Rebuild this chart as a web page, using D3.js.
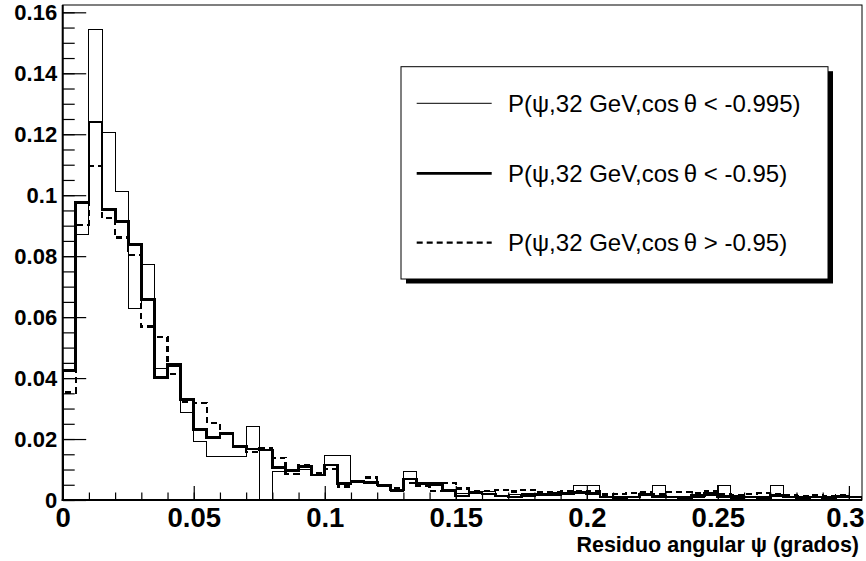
<!DOCTYPE html>
<html>
<head>
<meta charset="utf-8">
<script src="https://cdn.jsdelivr.net/npm/d3@7"></script>
<style>
  html, body { margin: 0; padding: 0; background: #fff; }
  svg { display: block; }
</style>
</head>
<body>
<svg id="chart" width="866" height="561"></svg>
<script>
// ---- data ----
const binWidth = 0.005;
const xMin = 0, xMax = 0.305;
const yMin = 0, yMax = 0.1624;

// P(psi, 32 GeV, cos theta < -0.995)  (thin)
const seriesThin = [0.0449, 0.0870, 0.1542, 0.1206, 0.1012, 0.0627, 0.0771, 0.0433, 0.0438, 0.0288,
  0.0191, 0.0142, 0.0142, 0.0142, 0.0241, 0.0000, 0.0095, 0.0095, 0.0100, 0.0079,
  0.0145, 0.0145, 0.0060, 0.0058, 0.0044, 0.0028, 0.0095, 0.0055, 0.0046, 0.0028,
  0.0022, 0.0028, 0.0028, 0.0015, 0.0018, 0.0022, 0.0022, 0.0025, 0.0025, 0.0047,
  0.0047, 0.0010, 0.0012, 0.0012, 0.0015, 0.0047, 0.0012, 0.0012, 0.0008, 0.0015,
  0.0047, 0.0015, 0.0012, 0.0008, 0.0047, 0.0010, 0.0008, 0.0010, 0.0005, 0.0010, 0.0008];

// P(psi, 32 GeV, cos theta < -0.95)  (thick)
const seriesThick = [0.0424, 0.0976, 0.1240, 0.0954, 0.0913, 0.0837, 0.0659, 0.0402, 0.0445, 0.0330,
  0.0230, 0.0205, 0.0219, 0.0175, 0.0167, 0.0164, 0.0106, 0.0098, 0.0109, 0.0082,
  0.0115, 0.0053, 0.0060, 0.0058, 0.0049, 0.0033, 0.0069, 0.0053, 0.0053, 0.0033,
  0.0013, 0.0025, 0.0020, 0.0013, 0.0010, 0.0015, 0.0018, 0.0018, 0.0020, 0.0025,
  0.0022, 0.0010, 0.0008, 0.0010, 0.0018, 0.0012, 0.0010, 0.0008, 0.0015, 0.0022,
  0.0012, 0.0008, 0.0010, 0.0008, 0.0015, 0.0010, 0.0008, 0.0010, 0.0008, 0.0012, 0.0010];

// P(psi, 32 GeV, cos theta > -0.95)  (dashed)
const seriesDashed = [0.0353, 0.0903, 0.1097, 0.0924, 0.0861, 0.0804, 0.0569, 0.0534, 0.0414, 0.0323,
  0.0319, 0.0252, 0.0216, 0.0173, 0.0158, 0.0169, 0.0139, 0.0085, 0.0115, 0.0088,
  0.0101, 0.0044, 0.0062, 0.0074, 0.0049, 0.0038, 0.0057, 0.0046, 0.0030, 0.0057,
  0.0038, 0.0030, 0.0030, 0.0033, 0.0028, 0.0033, 0.0025, 0.0025, 0.0028, 0.0030,
  0.0028, 0.0018, 0.0020, 0.0022, 0.0025, 0.0020, 0.0027, 0.0025, 0.0022, 0.0030,
  0.0018, 0.0015, 0.0020, 0.0022, 0.0018, 0.0015, 0.0012, 0.0015, 0.0012, 0.0015, 0.0010];

const legendLabels = [
  "P(\u03C8,32 GeV,cos\u2009\u03B8 < -0.995)",
  "P(\u03C8,32 GeV,cos\u2009\u03B8 < -0.95)",
  "P(\u03C8,32 GeV,cos\u2009\u03B8 > -0.95)"
];
const xTicks = [0, 0.05, 0.1, 0.15, 0.2, 0.25, 0.3];
const xTickLabels = ["0", "0.05", "0.1", "0.15", "0.2", "0.25", "0.3"];
const xMinorTicks = d3.range(0, 31).map(i => i / 100);
const yTicks = [0, 0.02, 0.04, 0.06, 0.08, 0.1, 0.12, 0.14, 0.16];
const yTickLabels = ["0", "0.02", "0.04", "0.06", "0.08", "0.1", "0.12", "0.14", "0.16"];
const yMinorTicks = d3.range(0, 33).map(i => i * 0.005);
const xTitle = "Residuo angular \u03C8 (grados)";

// ---- layout ----
const L = 62.7, R = 862, T = 5, B = 500;
const font = "'Liberation Sans', Arial, Helvetica, sans-serif";

const svg = d3.select("#chart");
const x = d3.scaleLinear().domain([xMin, xMax]).range([L, R]);
const y = d3.scaleLinear().domain([yMin, yMax]).range([B, T]);

svg.append("rect").attr("width", 866).attr("height", 561).attr("fill", "#fff");

svg.append("defs").append("clipPath").attr("id", "frameClip")
  .append("rect").attr("x", L).attr("y", T - 2).attr("width", R - L).attr("height", B - T + 2);

function histPoints(vals) {
  const pts = [[xMin, 0]];
  vals.forEach((v, i) => {
    pts.push([i * binWidth, v]);
    pts.push([(i + 1) * binWidth, v]);
  });
  pts.push([vals.length * binWidth, 0]);
  return pts;
}
const line = d3.line().x(d => x(d[0])).y(d => y(d[1]));

const series = [
  { vals: seriesThin, width: 1, dash: null },
  { vals: seriesThick, width: 2.8, dash: null },
  { vals: seriesDashed, width: 2.2, dash: "6,4" }
];

const gH = svg.append("g").attr("clip-path", "url(#frameClip)");
series.forEach(s => {
  gH.append("path")
    .attr("d", line(histPoints(s.vals)))
    .attr("fill", "none")
    .attr("stroke", "#000")
    .attr("stroke-width", s.width)
    .attr("stroke-dasharray", s.dash)
    .attr("stroke-linejoin", "miter")
    .attr("shape-rendering", "crispEdges");
});

// frame
svg.append("rect").attr("x", L).attr("y", T).attr("width", R - L).attr("height", B - T)
  .attr("fill", "none").attr("stroke", "#000").attr("stroke-width", 1);

// x axis: minor ticks
const xMinorAxis = d3.axisBottom(x).tickValues(xMinorTicks).tickSize(-7.5).tickSizeOuter(0).tickFormat("");
const gxm = svg.append("g").attr("transform", `translate(0,${B})`).call(xMinorAxis);
gxm.select(".domain").remove();
const xAxis = d3.axisBottom(x).tickValues(xTicks).tickSize(-14).tickSizeOuter(0)
  .tickPadding(7).tickFormat((d, i) => xTickLabels[i]);
const gx = svg.append("g").attr("transform", `translate(0,${B})`).call(xAxis);
gx.select(".domain").remove();
gx.selectAll("text").attr("font-family", font).attr("font-weight", "bold").attr("font-size", 27.5).attr("fill", "#000");
// keep the last label inside the canvas, as in the reference
gx.selectAll("text").filter((d, i) => i === xTicks.length - 1)
  .attr("text-anchor", "end").attr("x", 864 - x(xTicks[xTicks.length - 1]));
gx.selectAll("line").attr("stroke", "#000").attr("stroke-width", 1.2);
gxm.selectAll("line").attr("stroke", "#000").attr("stroke-width", 1.2);

// y axis
const yMinorAxis = d3.axisLeft(y).tickValues(yMinorTicks).tickSize(-12).tickSizeOuter(0).tickFormat("");
const gym = svg.append("g").attr("transform", `translate(${L},0)`).call(yMinorAxis);
gym.select(".domain").remove();
const yAxis = d3.axisLeft(y).tickValues(yTicks).tickSize(-23.5).tickSizeOuter(0)
  .tickPadding(5.5).tickFormat((d, i) => yTickLabels[i]);
const gy = svg.append("g").attr("transform", `translate(${L},0)`).call(yAxis);
gy.select(".domain").remove();
gy.selectAll("text").attr("font-family", font).attr("font-weight", "bold").attr("font-size", 22).attr("fill", "#000");
gy.selectAll("line").attr("stroke", "#000").attr("stroke-width", 1.2);
gym.selectAll("line").attr("stroke", "#000").attr("stroke-width", 1.2);

// axis lines (thicker)
svg.append("line").attr("x1", L).attr("x2", L).attr("y1", T).attr("y2", B + 1)
  .attr("stroke", "#000").attr("stroke-width", 2);
svg.append("line").attr("x1", L - 1).attr("x2", R).attr("y1", B).attr("y2", B)
  .attr("stroke", "#000").attr("stroke-width", 2);

// x title
svg.append("text").attr("x", 859).attr("y", 551.5).attr("text-anchor", "end")
  .attr("font-family", font).attr("font-weight", "bold").attr("font-size", 21.5)
  .attr("fill", "#000").text(xTitle);

// legend
const lg = { x0: 401, y0: 66.7, x1: 828, y1: 279 };
svg.append("rect").attr("x", lg.x0 + 5).attr("y", lg.y0 + 4.5)
  .attr("width", lg.x1 - lg.x0).attr("height", lg.y1 - lg.y0).attr("fill", "#000");
svg.append("rect").attr("x", lg.x0).attr("y", lg.y0)
  .attr("width", lg.x1 - lg.x0).attr("height", lg.y1 - lg.y0)
  .attr("fill", "#fff").attr("stroke", "#000").attr("stroke-width", 1);
const rowY = [103.3, 173.3, 242.7];
series.forEach((s, i) => {
  svg.append("line").attr("x1", 416.7).attr("x2", 491.7).attr("y1", rowY[i]).attr("y2", rowY[i])
    .attr("stroke", "#000").attr("stroke-width", s.width).attr("stroke-dasharray", s.dash);
  svg.append("text").attr("x", 508).attr("y", rowY[i] + 8.4)
    .attr("font-family", font).attr("font-size", 24).attr("fill", "#000")
    .text(legendLabels[i]);
});
</script>
</body>
</html>
